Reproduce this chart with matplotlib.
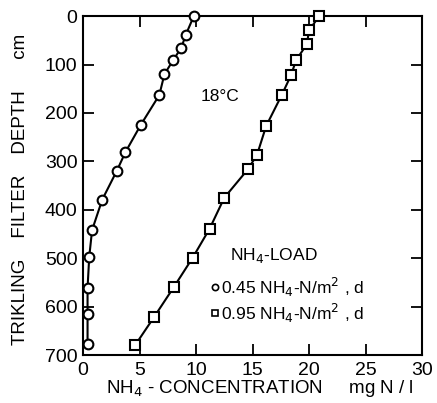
import numpy as np
import matplotlib
matplotlib.use("Agg")
import matplotlib.pyplot as plt

plt.rcParams["font.family"] = ["Liberation Sans", "DejaVu Sans"]

# NH4 load 0.45 (circles)
low_conc = [9.8, 9.1, 8.7, 8.0, 7.2, 6.75, 5.1, 3.75, 3.0, 1.7, 0.8, 0.55, 0.4, 0.4, 0.4]
low_depth = [0, 38, 65, 90, 120, 163, 225, 281, 319, 379, 442, 497, 561, 616, 678]

# NH4 load 0.95 (squares)
high_conc = [20.9, 20.0, 19.8, 18.85, 18.4, 17.6, 16.2, 15.4, 14.6, 12.5, 11.2, 9.7, 8.05, 6.3, 4.6]
high_depth = [0, 29, 58, 91, 122, 162, 227, 286, 316, 375, 439, 499, 559, 621, 680]

x_ticks = [0, 5, 10, 15, 20, 25, 30]
y_ticks = [0, 100, 200, 300, 400, 500, 600, 700]

fig = plt.figure(figsize=(4.37, 4.03), dpi=100)
ax = fig.add_axes([0.19, 0.119, 0.776, 0.841])

ax.plot(low_conc, low_depth, "-o", color="black", lw=1.5, ms=7,
        mfc="white", mec="black", mew=1.5, clip_on=False, zorder=3)
ax.plot(high_conc, high_depth, "-s", color="black", lw=1.5, ms=6.5,
        mfc="white", mec="black", mew=1.5, clip_on=False, zorder=3)

ax.set_xlim(0, 30)
ax.set_ylim(700, 0)
ax.set_xticks(x_ticks)
ax.set_yticks(y_ticks)
ax.tick_params(direction="in", length=8, width=1.3, labelsize=14,
               top=True, right=True)
ax.tick_params(axis="x", pad=5)
ax.tick_params(axis="y", pad=4)
for s in ax.spines.values():
    s.set_linewidth(1.5)

ax.set_xlabel("NH$_4$ - CONCENTRATION     mg N / l", fontsize=13.5)
ax.xaxis.label.set_va("center")
ax.xaxis.set_label_coords(0.52, -0.10)
ax.set_ylabel("TRIKLING    FILTER    DEPTH      cm", fontsize=13.5)
ax.yaxis.label.set_va("center")
ax.yaxis.set_label_coords(-0.185, 0.49)

ax.text(10.4, 165, "18°C", fontsize=12.5, ha="left", va="center")
ax.text(13.0, 494, "NH$_4$-LOAD", fontsize=12.5, ha="left", va="center")
ax.plot([11.7], [560], "o", ms=4.5, mfc="white", mec="black", mew=1.2)
ax.text(12.2, 560, "0.45 NH$_4$-N/m$^2$ , d", fontsize=12.5, ha="left", va="center")
ax.plot([11.7], [614], "s", ms=4.5, mfc="white", mec="black", mew=1.2)
ax.text(12.2, 614, "0.95 NH$_4$-N/m$^2$ , d", fontsize=12.5, ha="left", va="center")

fig.savefig("out.png", dpi=100)
